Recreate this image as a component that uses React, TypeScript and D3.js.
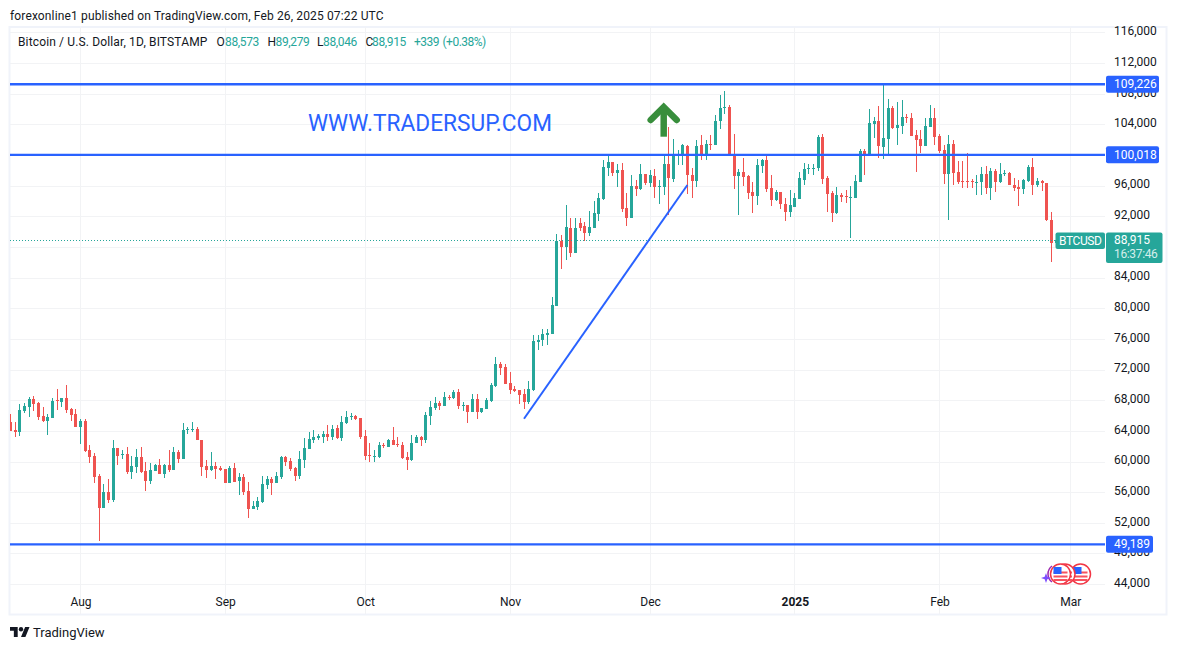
import React, { useRef, useEffect } from 'react'
import * as d3 from 'd3'

const firstDay = '2024-07-17'

const opens = [
  65216,64172,63911,66652,67174,68218,67696,65999,65347,65738,
  68087,67826,68348,66913,66260,64564,65347,61562,60779,58169,
  53993,56081,55037,61823,60909,61040,58691,59343,60648,58821,
  57516,58821,59604,58430,59604,58952,61301,60387,64172,64172,
  64303,62867,59474,58952,59474,59213,59082,57256,59213,57516,
  58039,56212,53863,54124,54776,57000,57778,57256,57995,60605,
  60083,59170,58126,60214,61649,62824,63085,63216,63607,63216,
  64390,63085,65043,65826,65956,65695,63346,60866,60605,60605,
  62171,61910,62824,62302,62171,60605,60214,62432,63216,62824,
  65956,67000,67652,67261,68479,68305,69088,67261,67392,66478,
  68174,66478,66869,67913,69871,72742,72350,70263,69480,69349,
  68827,67783,69349,75661,75922,76574,76705,80359,88842,88058,
  90538,87275,91190,90799,89886,90538,92365,94323,98368,99151,
  97715,98107,93148,91843,96019,95627,97585,96411,97324,95888,
  95888,98890,96933,99934,100065,101239,97454,96671,101369,100065,
  101500,101369,104501,106198,106329,100195,97324,97846,97324,95236,
  94714,98629,99412,95758,94192,95236,93670,92625,93277,94321,
  96801,98236,98236,98367,102413,97062,95104,92494,94843,94713,
  94452,94452,96540,100585,99933,104109,104501,101108,102152,106197,
  103587,103848,105023,104892,102673,102152,101238,103717,104892,102543,
  100716,97584,101499,97845,96670,96670,96670,96409,96540,97584,
  95757,97976,96540,97584,97714,96148,95888,95626,96670,98497,
  96148,96670,96409,91581,88573,
]

const highs = [
  66260,65216,67565,67696,68478,68609,67826,67174,66260,68348,
  69523,68348,70045,67043,66913,65607,65607,62215,61170,58430,
  57125,57778,62867,61823,61562,61954,60779,61693,61954,59996,
  59866,59735,60387,59735,61562,61954,61562,65085,64564,65216,
  64564,62867,60257,61301,59996,59474,59082,59474,59866,58560,
  58430,57386,54907,55429,58169,58169,58039,58691,60736,60736,
  60475,59301,61389,63085,63868,64129,63607,63999,64782,64782,
  64782,65956,66608,66347,66086,65695,64129,62432,61519,62563,
  62432,62954,64521,63216,62563,61258,63477,63477,63346,66478,
  67913,68435,67913,69088,68696,69349,69480,67783,67392,68827,
  68827,67000,68305,70263,73655,73003,72742,71698,69871,69349,
  69480,70524,76574,76574,77314,77314,81490,89755,89625,93540,
  91843,91843,91843,91321,92756,94061,95105,99412,100065,99151,
  98890,99020,95105,97454,96802,98890,97585,98107,98237,96802,
  100065,103719,102152,100717,101500,101369,98368,102022,102675,102022,
  102675,105285,107894,108416,106590,102805,98237,99673,97454,96541,
  99543,99543,99934,97454,95497,95236,94453,95497,95061,97845,
  99020,98889,98889,102673,102804,97323,95365,95888,95104,95496,
  96018,97454,100846,100846,106066,105023,106458,109459,107372,106458,
  106980,107241,105414,105545,103326,103326,104892,106588,106197,102804,
  101369,102673,102021,99280,99280,100324,96931,97454,98497,98628,
  98367,98236,99020,98106,97845,97062,96801,96931,98758,99672,
  97062,96801,96409,92625,89279,
]

const lows = [
  64042,63258,63389,66390,65868,66652,65477,65216,63520,65738,
  66782,67174,66390,65347,64564,62345,61301,59866,57256,49687,
  53993,54646,54776,59604,60387,58430,57778,58560,58560,56212,
  57125,58821,58430,57908,58691,58952,59866,60387,63650,63911,
  62867,58169,57908,58821,57778,58821,57256,57256,57386,55690,
  55690,52688,53863,53732,54646,56472,55690,57256,57734,59431,
  58779,57473,57734,59170,61649,62432,62824,62432,62693,62824,
  62954,62693,64912,65434,65434,62954,60214,59953,59953,60475,
  61780,61910,62171,61910,60344,58909,60083,62432,62041,62432,
  64782,66739,66739,67261,68044,68174,66869,66608,65043,66478,
  65565,66347,66869,67783,69740,71306,70132,68827,69088,67522,
  66869,67522,69218,74617,75139,75270,76705,80359,85187,86362,
  86753,87275,90147,88842,89494,90538,91452,94192,97324,97324,
  95888,92626,90799,91843,94714,95497,96150,95888,94453,93670,
  94844,92235,96541,98759,98759,94975,94453,95888,99412,99412,
  100717,101369,103457,105415,100065,95627,92235,96019,94323,92495,
  93540,97715,95236,93409,94061,93018,91452,92016,93277,94321,
  96148,97584,97454,97976,96279,92625,91320,92364,93930,93800,
  89232,94452,96540,97454,99933,102282,99672,99541,100194,103457,
  101369,102804,104239,102543,97845,100324,101238,103717,101369,100324,
  96279,91581,96148,96279,95757,95757,95757,94843,94843,94974,
  94191,95235,96409,97323,96148,95365,93408,94974,96540,94843,
  95888,95365,91450,86100,88046,
]

const closes = [
  64042,63911,66782,67304,68218,67565,65868,65347,65868,67957,
  67957,68348,66782,66130,64564,65347,61432,60648,58039,53993,
  56081,55037,61823,60779,61040,58691,59474,60648,58691,57516,
  58952,59604,58430,59604,58952,61301,60387,64172,64303,64303,
  62867,59343,58952,59474,59082,58952,57256,59213,57386,58039,
  56081,53863,54254,54907,57125,57778,57256,58169,60605,59953,
  59039,58126,60344,61780,62954,63216,63346,63607,63216,64260,
  63085,65173,65826,65956,65565,63216,60736,60736,60736,62171,
  62041,62824,62171,62171,60475,60214,62432,63216,62824,66086,
  67130,67652,67261,68435,68349,69088,67261,67392,66478,68174,
  66478,67000,68044,70001,72742,72220,70132,69349,69218,68696,
  67783,69480,75792,75922,76705,76835,80489,88842,88058,90669,
  87275,90538,90538,89886,90669,92495,94453,98498,99151,97715,
  98107,93018,91843,96019,95627,97585,96411,97454,95888,96019,
  98890,97063,100065,100065,101369,97454,96671,101239,100065,101500,
  101369,104501,106198,106329,100065,97324,97846,97194,95105,94714,
  98759,99412,95627,94192,95236,93670,92626,93538,94452,97062,
  98236,98367,98367,102413,96931,94974,92494,94843,94583,94583,
  94583,96670,100585,99933,104239,104501,101238,102282,106197,103587,
  103978,105023,104892,102543,102021,101238,103848,104892,102413,100585,
  97584,101499,97714,96540,96540,96540,96540,96540,97584,95757,
  97976,96540,97584,97714,96148,95757,95626,96801,98497,96148,
  96670,96409,91581,88579,88915,
]

const priceTicks = [
  44000, 48000, 52000, 56000, 60000, 64000, 68000, 72000, 76000, 80000,
  84000, 88000, 92000, 96000, 100000, 104000, 108000, 112000, 116000,
]
// 88,000 sits fully behind the BTCUSD price label
const hiddenTick = 88000
const monthTicks = ['2024-08-01', '2024-09-01', '2024-10-01', '2024-11-01', '2024-12-01', '2025-01-01', '2025-02-01', '2025-03-01']
const monthLabels = ['Aug', 'Sep', 'Oct', 'Nov', 'Dec', '2025', 'Feb', 'Mar']

const levels = [109226, 100018, 49189]
const lastPrice = 88915
const trendDates = ['2024-11-04', '2024-12-09']
const trendPrices = [65651, 96150]

const headerText = 'forexonline1 published on TradingView.com, Feb 26, 2025 07:22 UTC'
const legendTitle = 'Bitcoin / U.S. Dollar, 1D, BITSTAMP'
const legendKeys = ['O', 'H', 'L', 'C']
const legendValues = ['88,573', '89,279', '88,046', '88,915']
const legendChange = ['+339', '(+0.38%)']

const UP = '#26a69a'
const DOWN = '#ef5350'
const BLUE = '#2962ff'
const GRID = '#f2f3f5'
const INK = '#131722'
const FONT = 'Roboto, sans-serif'

const App = () => {
  const svgRef = useRef<SVGSVGElement>(null)

  useEffect(() => {
    const svg = d3.select(svgRef.current)
    svg.selectAll('*').remove()

    const parse = (s: string) => new Date(s + 'T00:00:00Z')
    const x = d3
      .scaleUtc()
      .domain([parse('2024-08-01'), parse('2025-02-01')])
      .range([80.5, 939.5])
    const y = d3.scaleLinear().domain([44000, 116000]).range([584.6, 32.9])

    const plot = { left: 10, right: 1105, top: 27, bottom: 614 }
    const days = opens.map((_, i) => d3.utcDay.offset(parse(firstDay), i))
    const candles = days.map((date, i) => ({
      date,
      open: opens[i],
      high: highs[i],
      low: lows[i],
      close: closes[i],
    }))

    svg
      .append('defs')
      .append('clipPath')
      .attr('id', 'plot-clip')
      .append('rect')
      .attr('x', plot.left)
      .attr('y', plot.top)
      .attr('width', plot.right - plot.left)
      .attr('height', plot.bottom - plot.top)

    // frame
    svg
      .append('rect')
      .attr('x', 9.5)
      .attr('y', 27)
      .attr('width', 1157)
      .attr('height', 587.5)
      .attr('fill', 'none')
      .attr('stroke', '#f0f3fa')
      .attr('stroke-width', 2)

    // grid
    const grid = svg.append('g').attr('shape-rendering', 'crispEdges')
    grid
      .selectAll('.h')
      .data(priceTicks)
      .enter()
      .append('line')
      .attr('x1', plot.left)
      .attr('x2', plot.right)
      .attr('y1', (d) => Math.floor(y(d)) + 0.5)
      .attr('y2', (d) => Math.floor(y(d)) + 0.5)
      .attr('stroke', GRID)
    grid
      .selectAll('.v')
      .data(monthTicks)
      .enter()
      .append('line')
      .attr('x1', (d) => Math.floor(x(parse(d))) + 0.5)
      .attr('x2', (d) => Math.floor(x(parse(d))) + 0.5)
      .attr('y1', plot.top)
      .attr('y2', plot.bottom)
      .attr('stroke', GRID)

    // candles
    const candleG = svg
      .append('g')
      .attr('clip-path', 'url(#plot-clip)')
      .attr('shape-rendering', 'crispEdges')
    const colour = (d) => (d.close >= d.open ? UP : DOWN)
    candleG
      .selectAll('.wick')
      .data(candles)
      .enter()
      .append('rect')
      .attr('x', (d) => Math.floor(x(d.date)))
      .attr('y', (d) => y(d.high))
      .attr('width', 1)
      .attr('height', (d) => y(d.low) - y(d.high))
      .attr('fill', colour)
    candleG
      .selectAll('.body')
      .data(candles)
      .enter()
      .append('rect')
      .attr('x', (d) => Math.floor(x(d.date)) - 1)
      .attr('y', (d) => Math.round(y(Math.max(d.open, d.close))))
      .attr('width', 3)
      .attr('height', (d) => Math.max(1, Math.abs(y(d.open) - y(d.close))))
      .attr('fill', colour)

    // last price line
    svg
      .append('line')
      .attr('x1', plot.left)
      .attr('x2', 1056)
      .attr('y1', Math.floor(y(lastPrice)) + 0.5)
      .attr('y2', Math.floor(y(lastPrice)) + 0.5)
      .attr('stroke', UP)
      .attr('stroke-dasharray', '1 2')
      .attr('shape-rendering', 'crispEdges')

    // drawn levels and trend line
    svg
      .selectAll('.level')
      .data(levels)
      .enter()
      .append('line')
      .attr('x1', plot.left)
      .attr('x2', plot.right)
      .attr('y1', (d) => y(d) - 0.5)
      .attr('y2', (d) => y(d) - 0.5)
      .attr('stroke', BLUE)
      .attr('stroke-width', 2.4)

    svg
      .append('line')
      .attr('x1', x(parse(trendDates[0])))
      .attr('y1', y(trendPrices[0]))
      .attr('x2', x(parse(trendDates[1])))
      .attr('y2', y(trendPrices[1]))
      .attr('stroke', BLUE)
      .attr('stroke-width', 2)

    svg
      .append('text')
      .attr('x', 308)
      .attr('y', 131)
      .attr('fill', BLUE)
      .attr('font-family', FONT)
      .attr('font-size', 23)
      .attr('textLength', 244)
      .attr('lengthAdjust', 'spacingAndGlyphs')
      .text('WWW.TRADERSUP.COM')

    // arrow over the breakout
    const arrow = svg
      .append('g')
      .attr('fill', 'none')
      .attr('stroke', '#388e3c')
      .attr('stroke-width', 6.5)
    arrow
      .append('path')
      .attr('d', 'M650.7 120L663.7 107L676.7 120')
      .attr('stroke-linecap', 'round')
      .attr('stroke-linejoin', 'miter')
    arrow.append('path').attr('d', 'M663.7 107V136.7')

    // price axis
    const yAxis = d3
      .axisRight(y)
      .tickValues(priceTicks.filter((d) => d !== hiddenTick))
      .tickFormat(d3.format(','))
      .tickSize(0)
      .tickPadding(0)
    const yG = svg.append('g').attr('transform', 'translate(1114,-2)').call(yAxis)
    yG.select('.domain').remove()
    yG.selectAll('text').attr('font-family', FONT).attr('font-size', 12).attr('fill', INK)

    // time axis
    const xAxis = d3
      .axisBottom(x)
      .tickValues(monthTicks.map(parse))
      .tickFormat((_, i) => monthLabels[i])
      .tickSize(0)
      .tickPadding(0)
    const xG = svg.append('g').attr('transform', 'translate(0,597)').call(xAxis)
    xG.select('.domain').remove()
    xG.selectAll('text')
      .attr('font-family', FONT)
      .attr('font-size', 12)
      .attr('fill', INK)
      .attr('font-weight', (_, i) => (monthLabels[i] === '2025' ? 700 : 400))

    // price labels
    const labelFor = (text, price, width) => {
      const cy = y(price)
      svg
        .append('rect')
        .attr('x', 1106)
        .attr('y', cy - 9)
        .attr('width', width)
        .attr('height', 17)
        .attr('rx', 2)
        .attr('fill', BLUE)
      svg
        .append('text')
        .attr('x', 1114)
        .attr('y', cy + 3.5)
        .attr('fill', '#fff')
        .attr('font-family', FONT)
        .attr('font-size', 12)
        .text(text)
    }
    levels.forEach((d) => labelFor(d3.format(',')(d), d, d >= 100000 ? 53 : 47))

    const lastY = y(lastPrice)
    svg
      .append('rect')
      .attr('x', 1055.5)
      .attr('y', lastY - 8)
      .attr('width', 49.5)
      .attr('height', 16.5)
      .attr('rx', 2)
      .attr('fill', UP)
    svg
      .append('text')
      .attr('x', 1059)
      .attr('y', lastY + 4.5)
      .attr('fill', '#fff')
      .attr('font-family', FONT)
      .attr('font-size', 12)
      .attr('letter-spacing', -0.4)
      .text('BTCUSD')
    svg
      .append('rect')
      .attr('x', 1106)
      .attr('y', lastY - 8)
      .attr('width', 56.5)
      .attr('height', 30.5)
      .attr('rx', 2)
      .attr('fill', UP)
    svg
      .append('text')
      .attr('x', 1114)
      .attr('y', lastY + 4)
      .attr('fill', '#fff')
      .attr('font-family', FONT)
      .attr('font-size', 12)
      .text(d3.format(',')(lastPrice))
    svg
      .append('text')
      .attr('x', 1114)
      .attr('y', lastY + 18)
      .attr('fill', '#d4eeeb')
      .attr('font-family', FONT)
      .attr('font-size', 12)
      .attr('letter-spacing', -0.35)
      .text('16:37:46')

    // calendar badges
    const badge = (cx, cy) => {
      const g = svg.append('g').attr('transform', `translate(${cx},${cy})`)
      g.append('circle').attr('r', 10).attr('fill', '#fff').attr('stroke', '#f23645').attr('stroke-width', 1.5)
      ;[-2.5, 1.5, 5].forEach((dy) =>
        g.append('rect').attr('x', -7).attr('y', dy).attr('width', 14).attr('height', 2).attr('fill', '#f7525f'),
      )
      g.append('rect').attr('x', -7).attr('y', -7).attr('width', 8).attr('height', 7).attr('fill', '#2962ff')
    }
    badge(1080.5, 574)
    svg
      .append('path')
      .attr('d', 'M1052 566A10 10 0 0 0 1052 582')
      .attr('fill', 'none')
      .attr('stroke', '#9c27b0')
      .attr('stroke-width', 1.5)
    badge(1065, 574)
    badge(1060.5, 574)
    svg
      .append('path')
      .attr('d', 'M1046 573L1047.3 576.7L1051 578L1047.3 579.3L1046 583L1044.7 579.3L1041 578L1044.7 576.7Z')
      .attr('fill', '#7c4dff')

    // header text
    svg
      .append('text')
      .attr('x', 10)
      .attr('y', 19.5)
      .attr('fill', INK)
      .attr('font-family', FONT)
      .attr('font-size', 12)
      .attr('letter-spacing', 0.14)
      .text(headerText)

    // legend row
    const legend = svg
      .append('g')
      .attr('font-family', FONT)
      .attr('font-size', 12)
      .attr('transform', 'translate(0,46)')
    legend.append('text').attr('x', 18).attr('fill', INK).attr('letter-spacing', 0.14).text(legendTitle)
    const keyX = [216.5, 267.5, 317, 365.5]
    const valueX = [225, 275.5, 323, 372]
    legendKeys.forEach((k, i) => {
      legend.append('text').attr('x', keyX[i]).attr('fill', INK).text(k)
      legend
        .append('text')
        .attr('x', valueX[i])
        .attr('fill', UP)
        .attr('letter-spacing', -0.35)
        .text(legendValues[i])
    })
    const changeX = [414, 442.5]
    legendChange.forEach((t, i) => {
      legend.append('text').attr('x', changeX[i]).attr('fill', UP).attr('letter-spacing', -0.5).text(t)
    })

    // logo
    const logo = svg.append('g').attr('transform', 'translate(10,624.8) scale(0.55)').attr('fill', INK)
    logo.append('path').attr('d', 'M14 22H7V11H0V4h14v18zM28 22h-8l7.5-18h8L28 22z')
    logo.append('circle').attr('cx', 20).attr('cy', 8).attr('r', 4)
    svg
      .append('text')
      .attr('x', 33)
      .attr('y', 637)
      .attr('fill', INK)
      .attr('font-family', FONT)
      .attr('font-size', 13)
      .text('TradingView')
  }, [])

  return (
    <svg
      ref={svgRef}
      width={1177}
      height={650}
      style={{ position: 'absolute', left: 0, top: 0, background: '#fff' }}
    />
  )
}

export default App
